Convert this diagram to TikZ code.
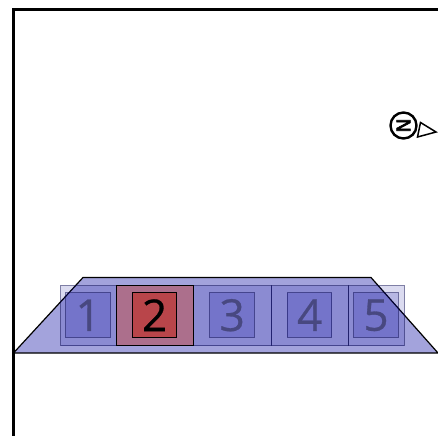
\documentclass[tikz,border=0pt]{standalone}
\usepackage{fontspec}
\setmainfont[FakeBold=0.7]{Open Sans}
\newfontfamily\northfont[FakeBold=3]{DejaVu Sans}
\definecolor{trapblue}{RGB}{0,0,158}
\definecolor{boxblue}{RGB}{0,0,155}
\definecolor{coreblue}{RGB}{0,0,164}
\definecolor{boxred}{RGB}{189,20,0}
\definecolor{corered}{RGB}{198,28,10}
\definecolor{digitgrey}{RGB}{72,72,128}
\tikzset{
  frameline/.style={draw=black,line width=3pt},
  trapshape/.style={draw=black,line width=1.2pt,fill=trapblue,fill opacity=.36},
  outerbox/.style={draw=black!70!blue,draw opacity=.5,line width=1pt,fill=boxblue,fill opacity=.14,inner sep=0pt,minimum height=60pt},
  innerbox/.style={draw=black!70!blue,draw opacity=.5,line width=1pt,fill=coreblue,fill opacity=.16,inner sep=0pt,minimum width=44.5pt,minimum height=44.5pt},
  digit/.style={font=\fontsize{44}{44}\selectfont\bfseries,text=digitgrey,inner sep=0pt},
  outerred/.style={draw=black,line width=1pt,fill=boxred,fill opacity=.36,inner sep=0pt,minimum height=60pt,minimum width=77pt},
  innerred/.style={draw=black,line width=1pt,fill=corered,fill opacity=.5,inner sep=0pt,minimum width=44.5pt,minimum height=44.5pt},
  digitred/.style={font=\fontsize{44}{44}\selectfont,text=black,inner sep=0pt},
}
\begin{document}
\begin{tikzpicture}[x=1pt,y=-1pt]
\useasboundingbox (0,0) rectangle (438,436);
\clip (0,0) rectangle (438,436);
\fill[white] (0,0) rectangle (438,436);
% frame
\coordinate (tr) at (438,9.5);
\coordinate (tl) at (13.5,9.5);
\coordinate (bl) at (13.5,436);
\draw[frameline] (tr) -- (tl) -- (bl);
% section trapezoid
\coordinate (ta) at (13.5,353);
\coordinate (tb) at (83,277.5);
\coordinate (tc) at (371,277.5);
\coordinate (td) at (438,353);
\draw[trapshape] (ta) -- (tb) -- (tc) -- (td) -- cycle;
% outer boxes
\node[outerbox,minimum width=56pt] (o1) at (88.5,315.5) {};
\node[outerbox,minimum width=77.5pt] (o3) at (232.25,315.5) {};
\node[outerbox,minimum width=77.5pt] (o4) at (309.75,315.5) {};
\node[outerbox,minimum width=55.5pt] (o5) at (376.25,315.5) {};
\node[outerred] (o2) at (155,315.5) {};
% inner boxes
\node[innerbox] (i1) at (88.2,315.2) {};
\node[innerbox] (i3) at (232.2,315.2) {};
\node[innerbox] (i4) at (309.7,315.2) {};
\node[innerbox] (i5) at (376,315.2) {};
\node[innerred] (i2) at (154.6,315.2) {};
% digits
\node[digit] (d1) at (i1) {\mdseries 1};
\node[digitred] (d2) at (i2) {2};
\node[digit] (d3) at (i3) {\mdseries 3};
\node[digit] (d4) at (i4) {\mdseries 4};
\node[digit] (d5) at (i5) {\mdseries 5};
% north arrow
\node[circle,draw=black,line width=2.4pt,minimum size=26pt,inner sep=0pt] (north) at (403.5,125.5) {};
\node[rotate=-90,font=\fontsize{19}{19}\northfont,inner sep=0pt] (nlabel) at (north) {N};
\coordinate (pa) at (420.5,122.5);
\coordinate (pb) at (436,132);
\coordinate (pc) at (417.5,137);
\draw[black,line width=1.5pt,line join=miter] (pa) -- (pb) -- (pc) -- cycle;
\end{tikzpicture}
\end{document}
